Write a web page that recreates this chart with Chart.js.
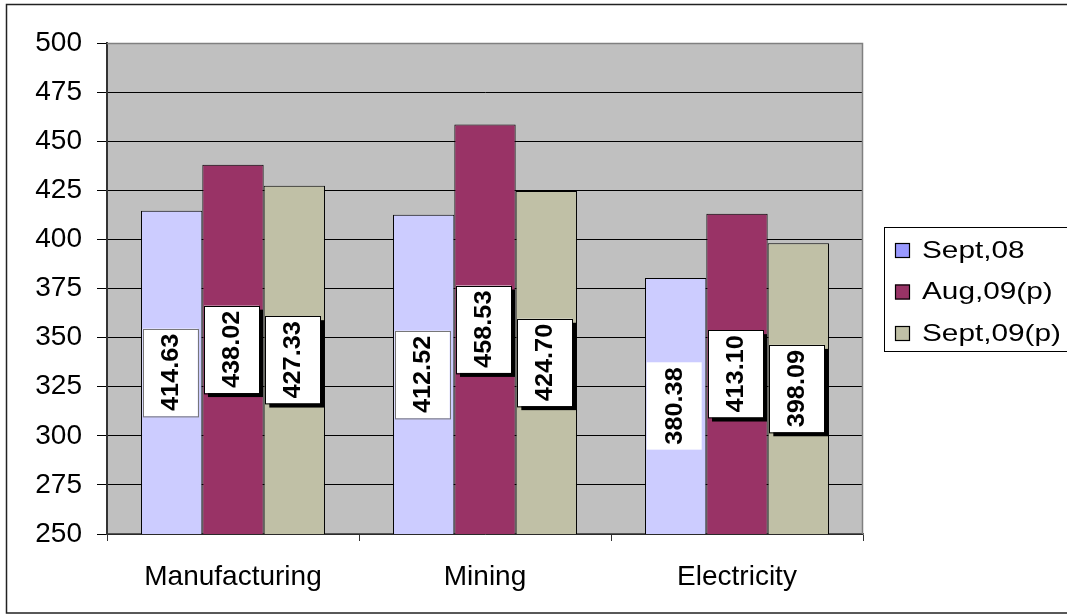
<!DOCTYPE html>
<html>
<head>
<meta charset="utf-8">
<script src="https://cdn.jsdelivr.net/npm/chart.js@4"></script>
<style>
  html, body { margin: 0; padding: 0; background: #fff; }
  canvas { display: block; }
</style>
</head>
<body>
<canvas id="chart" width="1067" height="614"></canvas>
<script>
const categories = ['Manufacturing', 'Mining', 'Electricity'];
const seriesNames = ['Sept,08', 'Aug,09(p)', 'Sept,09(p)'];
const sept08 = [414.63, 412.52, 380.38];
const aug09 = [438.02, 458.53, 413.10];
const sept09 = [427.33, 424.70, 398.09];
const barColors = ['#CCCCFF', '#993366', '#C0C0A6'];
const legendColors = ['#9999FF', '#993366', '#C0C0A6'];

const FONT = 'Arial, "Liberation Sans", sans-serif';

// gray plot background and outer frame
const backdrop = {
    id: 'backdrop',
    beforeDraw(chart) {
        const { ctx, chartArea: a } = chart;
        ctx.save();
        ctx.fillStyle = '#C0C0C0';
        ctx.fillRect(a.left, a.top, a.right - a.left, a.bottom - a.top);
        ctx.restore();
    },
    afterDraw(chart) {
        const { ctx, chartArea: a } = chart;
        ctx.save();
        ctx.strokeStyle = '#808080';
        ctx.lineWidth = 1.5;
        ctx.beginPath();
        ctx.moveTo(a.left, a.top + 0.5);
        ctx.lineTo(a.right - 0.5, a.top + 0.5);
        ctx.lineTo(a.right - 0.5, a.bottom);
        ctx.stroke();
        // outer chart border
        ctx.strokeStyle = '#222';
        ctx.lineWidth = 1.5;
        ctx.strokeRect(6.5, 4.5, 1075, 608.5);
        ctx.restore();
    }
};

// rotated value labels in white boxes
const valueLabels = {
    id: 'valueLabels',
    afterDatasetsDraw(chart) {
        const ctx = chart.ctx;
        const bottom = chart.chartArea.bottom;
        ctx.save();
        ctx.font = 'bold 23px ' + FONT;
        chart.data.datasets.forEach((ds, di) => {
            const meta = chart.getDatasetMeta(di);
            meta.data.forEach((bar, i) => {
                const text = ds.data[i].toFixed(2);
                const tw = ctx.measureText(text).width * 1.1;
                const w = 55, h = tw + 10;
                const cx = bar.x - 1.5;
                const cy = (bar.y + bottom) / 2;
                const x = cx - w / 2, y = cy - h / 2;
                if (di > 0) {
                    ctx.fillStyle = '#000';
                    ctx.fillRect(x + 4, y + 4, w, h);
                }
                ctx.fillStyle = '#fff';
                ctx.fillRect(x, y, w, h);
                if (!(di === 0 && i === 2)) {
                    ctx.strokeStyle = di > 0 ? '#000' : '#777';
                    ctx.lineWidth = 1;
                    ctx.strokeRect(Math.round(x) + 0.5, Math.round(y) + 0.5, w, h);
                }
                ctx.save();
                ctx.translate(cx, cy);
                ctx.rotate(-Math.PI / 2);
                ctx.scale(1.1, 1);
                ctx.fillStyle = '#000';
                ctx.textAlign = 'center';
                ctx.textBaseline = 'middle';
                ctx.fillText(text, 0, 1);
                ctx.restore();
            });
        });
        ctx.restore();
    }
};

// boxed legend on the right
const boxLegend = {
    id: 'boxLegend',
    afterDraw(chart) {
        const ctx = chart.ctx;
        ctx.save();
        ctx.strokeStyle = '#000';
        ctx.lineWidth = 1;
        ctx.strokeRect(884.5, 227.5, 200, 124);
        ctx.font = '24px ' + FONT;
        ctx.textBaseline = 'middle';
        seriesNames.forEach((name, i) => {
            const cy = 250 + i * 41.5;
            ctx.fillStyle = legendColors[i];
            ctx.fillRect(895, cy - 7, 15, 15);
            ctx.strokeStyle = '#000';
            ctx.lineWidth = 1.2;
            ctx.strokeRect(895.5, cy - 6.5, 14, 14);
            ctx.save();
            ctx.translate(922, cy + 1);
            ctx.scale(1.24, 1);
            ctx.fillStyle = '#000';
            ctx.fillText(name, 0, 0);
            ctx.restore();
        });
        ctx.restore();
    }
};

const seriesData = [sept08, aug09, sept09];

new Chart(document.getElementById('chart'), {
    type: 'bar',
    data: {
        labels: categories,
        datasets: seriesNames.map((name, i) => ({
            label: name,
            data: seriesData[i],
            backgroundColor: barColors[i],
            borderColor: '#000',
            borderWidth: 1,
            categoryPercentage: 0.73,
            barPercentage: 1.0
        }))
    },
    options: {
        responsive: false,
        animation: false,
        devicePixelRatio: 1,
        layout: { padding: { top: 43, right: 204, bottom: 0, left: 0 } },
        plugins: {
            legend: { display: false },
            tooltip: { enabled: false }
        },
        scales: {
            x: {
                grid: {
                    offset: true,
                    drawOnChartArea: false,
                    tickLength: 7,
                    color: '#333'
                },
                border: { color: '#555', width: 1.5 },
                ticks: {
                    color: '#000',
                    padding: 19,
                    font: { family: FONT, size: 28 }
                },
                afterFit(scale) { scale.height = 80; }
            },
            y: {
                min: 250,
                max: 500,
                grid: {
                    color: '#000',
                    lineWidth: 1,
                    tickLength: 10
                },
                border: { color: '#333', width: 2 },
                ticks: {
                    stepSize: 25,
                    color: '#000',
                    padding: 15,
                    font: { family: FONT, size: 28 }
                },
                afterFit(scale) { scale.width = 107; }
            }
        }
    },
    plugins: [backdrop, valueLabels, boxLegend]
});
</script>
</body>
</html>
